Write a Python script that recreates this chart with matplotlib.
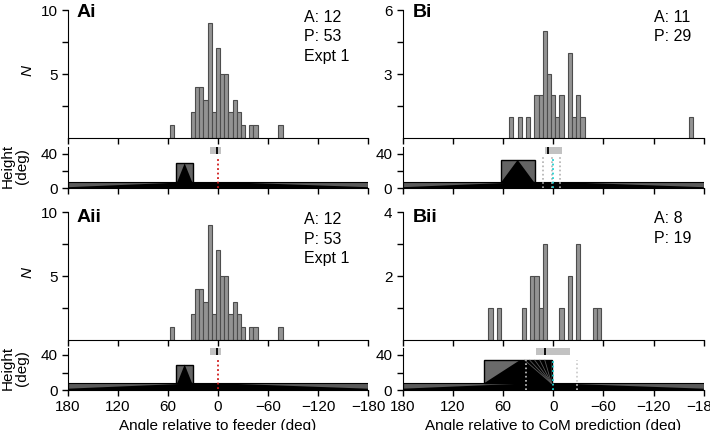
import matplotlib
matplotlib.use("Agg")
import matplotlib.pyplot as plt
from matplotlib.patches import Rectangle, Polygon

plt.rcParams["font.family"] = ["Liberation Sans", "DejaVu Sans"]
plt.rcParams["font.size"] = 11

W, H = 710, 430

# histogram data: bin centres (deg) and counts, 5 deg bins
ai_centers = [55, 30, 25, 20, 15, 10, 5, 0, -5, -10, -15, -20, -25, -30, -40, -45, -75]
ai_counts = [1, 2, 4, 4, 3, 9, 2, 7, 5, 5, 2, 3, 2, 1, 1, 1, 1]

bi_centers = [50, 40, 30, 20, 15, 10, 5, 0, -5, -10, -20, -25, -30, -35, -165]
bi_counts = [1, 1, 1, 2, 2, 5, 3, 2, 1, 2, 4, 1, 2, 1, 1]

bii_centers = [75, 65, 35, 25, 20, 15, 10, -10, -20, -30, -50, -55]
bii_counts = [1, 1, 1, 2, 2, 1, 3, 1, 2, 3, 1, 1]

# scene strip: landmark box [left, right, top], feeder marker [left, right, dark bar]
a_box = [50, 30, 29]
b_box = [63, 22, 33]
bii_box = [83, 2, 34]
a_feeder = [10, -4, 1]
bi_feeder = [10, -10, 6]
bii_feeder = [20, -20, 10]
bi_grey_lines = [12.5, 1.5, -8.5]
bii_grey_lines = [33, -28]
band_top = 7.5

xticks = [180, 120, 60, 0, -60, -120, -180]


def px_rect(left, top, right, bottom):
    return [left / W, 1 - bottom / H, (right - left) / W, (bottom - top) / H]


def style_axes(ax):
    for s in ("top", "right"):
        ax.spines[s].set_visible(False)
    ax.tick_params(direction="out", length=4, width=1, labelsize=11)
    ax.set_xlim(180, -180)
    ax.set_xticks(xticks)


def add_hist(rect, centers, counts, ymax, yticks, ylabels):
    ax = fig.add_axes(rect)
    style_axes(ax)
    ax.bar(centers, counts, width=5, color="#939393", edgecolor="#4d4d4d", linewidth=0.8)
    ax.set_ylim(0, ymax)
    ax.set_yticks(yticks)
    ax.set_yticklabels(ylabels)
    ax.set_xticklabels([])
    return ax


def add_strip(rect, labels):
    ax = fig.add_axes(rect)
    style_axes(ax)
    ax.set_ylim(0, 48)
    ax.set_yticks([0, 20, 40])
    ax.set_yticklabels(["0", "", "40"])
    if labels:
        ax.set_xticklabels(["180", "120", "60", "0", "\u221260", "\u2212120", "\u2212180"])
    else:
        ax.set_xticklabels([])
    # ground band with dark wedge
    ax.add_patch(Rectangle((-180, 0), 360, band_top, facecolor="#5a5a5a",
                           edgecolor="black", linewidth=0.8, zorder=2))
    ax.add_patch(Polygon([(180, 0), (180, 1.5), (30, band_top), (-5, band_top),
                          (-180, 1.5), (-180, 0)], closed=True,
                         facecolor="black", edgecolor="none", zorder=3))
    return ax


def draw_box(ax, box):
    left, right, top = box
    ax.add_patch(Rectangle((right, band_top), left - right, top - band_top,
                           facecolor="#646464", edgecolor="black", linewidth=1, zorder=4))
    ax.add_patch(Polygon([(left - 1, band_top), ((left + right) / 2, top), (right + 1, band_top)],
                         closed=True, facecolor="black", edgecolor="none", zorder=5))


def draw_feeder(ax, feeder):
    left, right, bar = feeder
    ax.add_patch(Rectangle((right, 40), left - right, 8, facecolor="#c2c2c2",
                           edgecolor="none", zorder=4, clip_on=False))
    ax.add_patch(Rectangle((bar - 1.2, 40), 2.4, 8, facecolor="#111111",
                           edgecolor="none", zorder=5, clip_on=False))


fig = plt.figure(figsize=(W / 100, H / 100), dpi=100)

A_L, A_R = 68, 368
B_L, B_R = 402.7, 703.7

# --- Ai ---
add_hist(px_rect(A_L, 10, A_R, 138), ai_centers, ai_counts, 10, [2.5, 5, 7.5, 10], ["", "5", "", "10"])
ax = add_strip(px_rect(A_L, 147, A_R, 188.5), False)
draw_box(ax, a_box)
draw_feeder(ax, a_feeder)
ax.plot([0, 0], [1, 35], color="#d01818", linestyle=(0, (1, 1.5)), linewidth=1.3, zorder=6)

# --- Bi ---
add_hist(px_rect(B_L, 10, B_R, 138), bi_centers, bi_counts, 6, [1.5, 3, 4.5, 6], ["", "3", "", "6"])
ax = add_strip(px_rect(B_L, 147, B_R, 188.5), False)
draw_box(ax, b_box)
draw_feeder(ax, bi_feeder)
for x in bi_grey_lines:
    ax.plot([x, x], [1, 36], color="#b0b0b0", linestyle=(0, (1, 1.5)), linewidth=1.2, zorder=6)
ax.plot([0, 0], [0, 36], color="#22d0d0", linestyle=(0, (1, 1.5)), linewidth=1.3, zorder=7)

# --- Aii ---
add_hist(px_rect(A_L, 212, A_R, 340), ai_centers, ai_counts, 10, [2.5, 5, 7.5, 10], ["", "5", "", "10"])
ax = add_strip(px_rect(A_L, 348, A_R, 390), True)
draw_box(ax, a_box)
draw_feeder(ax, a_feeder)
ax.plot([0, 0], [1, 35], color="#d01818", linestyle=(0, (1, 1.5)), linewidth=1.3, zorder=6)
ax.set_xlabel("Angle relative to feeder (deg)", fontsize=11, labelpad=3)

# --- Bii ---
add_hist(px_rect(B_L, 212, B_R, 340), bii_centers, bii_counts, 4, [1, 2, 3, 4], ["", "2", "", "4"])
ax = add_strip(px_rect(B_L, 348, B_R, 390), True)
left, right, top = bii_box
ax.add_patch(Rectangle((right, band_top), left - right, top - band_top,
                       facecolor="#6a6a6a", edgecolor="black", linewidth=1, zorder=4))
ax.add_patch(Polygon([(left, band_top), (40, top), (right, top), (right, band_top)],
                     closed=True, facecolor="black", edgecolor="none", zorder=5))
for tx in (34, 28, 22, 16, 10):
    ax.plot([right, tx], [band_top, top], color="#5a5a5a", linewidth=0.6, zorder=5)
draw_feeder(ax, bii_feeder)
for x in bii_grey_lines:
    ax.plot([x, x], [0, 34], color="#c8c8c8", linestyle=(0, (1, 1.5)), linewidth=1.2, zorder=6)
ax.plot([0, 0], [0, 34], color="#22d0d0", linestyle=(0, (1, 1.5)), linewidth=1.3, zorder=7)
ax.set_xlabel("Angle relative to CoM prediction (deg)", fontsize=11, labelpad=3)

# panel labels
for txt, x, y in (("Ai", 77, 17), ("Bi", 413, 17), ("Aii", 77, 222.5), ("Bii", 413, 222.5)):
    fig.text(x / W, 1 - y / H, txt, fontsize=14, fontweight="bold", va="baseline")

# counts
info = [
    (304, 21.7, ["A: 12", "P: 53", "Expt 1"]),
    (654, 21.7, ["A: 11", "P: 29"]),
    (304, 224, ["A: 12", "P: 53", "Expt 1"]),
    (654, 223.3, ["A: 8", "P: 19"]),
]
for x, y, lines in info:
    for i, line in enumerate(lines):
        fig.text(x / W, 1 - (y + i * 19.5) / H, line, fontsize=11.5, va="baseline")

# y labels
for yc in (70, 272):
    fig.text(28 / W, 1 - yc / H, "N", fontsize=11, style="italic", rotation=90,
             ha="center", va="center")
for yc in (166, 368):
    fig.text(15 / W, 1 - yc / H, "Height\n(deg)", fontsize=11, rotation=90,
             ha="center", va="center", linespacing=1.0, multialignment="center")

fig.savefig("out.png", dpi=100)
